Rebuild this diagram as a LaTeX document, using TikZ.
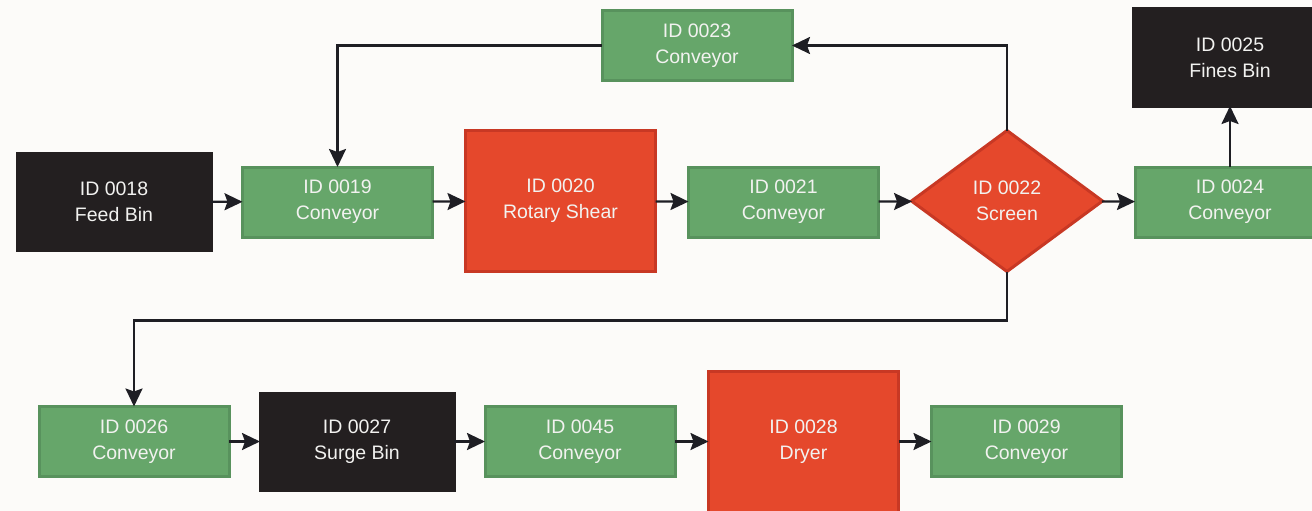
\documentclass[tikz,border=0pt]{standalone}
\usepackage{fontspec}
\setmainfont{Liberation Sans}
\usetikzlibrary{shapes.geometric,arrows.meta}
\definecolor{bgc}{RGB}{252,251,249}
\definecolor{gfill}{RGB}{102,166,106}
\definecolor{gdraw}{RGB}{88,146,93}
\definecolor{rfill}{RGB}{229,72,44}
\definecolor{rdraw}{RGB}{200,56,36}
\definecolor{kfill}{RGB}{35,31,32}
\definecolor{txt}{RGB}{242,242,240}
\definecolor{arr}{RGB}{30,30,36}
\tikzset{
  base/.style={inner sep=0pt, outer sep=0pt, line width=3pt, align=center, text=txt,
    font=\fontsize{19.5}{26}\selectfont},
  conv/.style={base, rectangle, fill=gfill, draw=gdraw, minimum width=190pt, minimum height=70pt},
  bin/.style={base, rectangle, fill=kfill, draw=kfill, minimum width=194pt, minimum height=97pt},
  proc/.style={base, rectangle, fill=rfill, draw=rdraw, minimum width=190pt, minimum height=141pt},
  deci/.style={base, diamond, fill=rfill, draw=rdraw, minimum width=191pt, minimum height=141pt},
  flow/.style={draw=arr, line width=2.3pt, -{Stealth[length=18pt,width=17pt,inset=3pt]}}
}
\begin{document}
\begin{tikzpicture}[x=1pt,y=-1pt]
\fill[bgc] (0,0) rectangle (1312,511);
\useasboundingbox (0,0) rectangle (1312,511);
\clip (0,0) rectangle (1312,511);
\node[bin]  (n18) at (114,201.5) {ID 0018\\Feed Bin};
\node[conv] (n19) at (337.5,202) {ID 0019\\Conveyor};
\node[proc] (n20) at (560.5,201) {ID 0020\\Rotary Shear};
\node[conv] (n21) at (783.5,202) {ID 0021\\Conveyor};
\node[deci] (n22) at (1007,201) {ID 0022\\Screen};
\node[conv] (n23) at (697,45.5) {ID 0023\\Conveyor};
\node[conv] (n24) at (1230,202) {ID 0024\\Conveyor};
\node[bin]  (n25) at (1230,57.5) {ID 0025\\Fines Bin};
\node[conv] (n26) at (134,441.5) {ID 0026\\Conveyor};
\node[bin]  (n27) at (357,441.5) {ID 0027\\Surge Bin};
\node[conv] (n45) at (580,441.5) {ID 0045\\Conveyor};
\node[proc] (n28) at (803.5,441.5) {ID 0028\\Dryer};
\node[conv] (n29) at (1026.5,441.5) {ID 0029\\Conveyor};
\draw[flow] (n18) -- (n19);
\draw[flow] (n19) -- (n20);
\draw[flow] (n20) -- (n21);
\draw[flow] (n21) -- (n22);
\draw[flow] (n22) -- (n24);
\draw[flow] (n24) -- (n25);
\draw[flow] (n22.north) |- (n23.east);
\draw[flow] (n23.west) -| (n19.north);
\draw[flow] (n22.south) -- ++(0,49) -| (n26.north);
\draw[flow] (n26) -- (n27);
\draw[flow] (n27) -- (n45);
\draw[flow] (n45) -- (n28);
\draw[flow] (n28) -- (n29);
\end{tikzpicture}
\end{document}
